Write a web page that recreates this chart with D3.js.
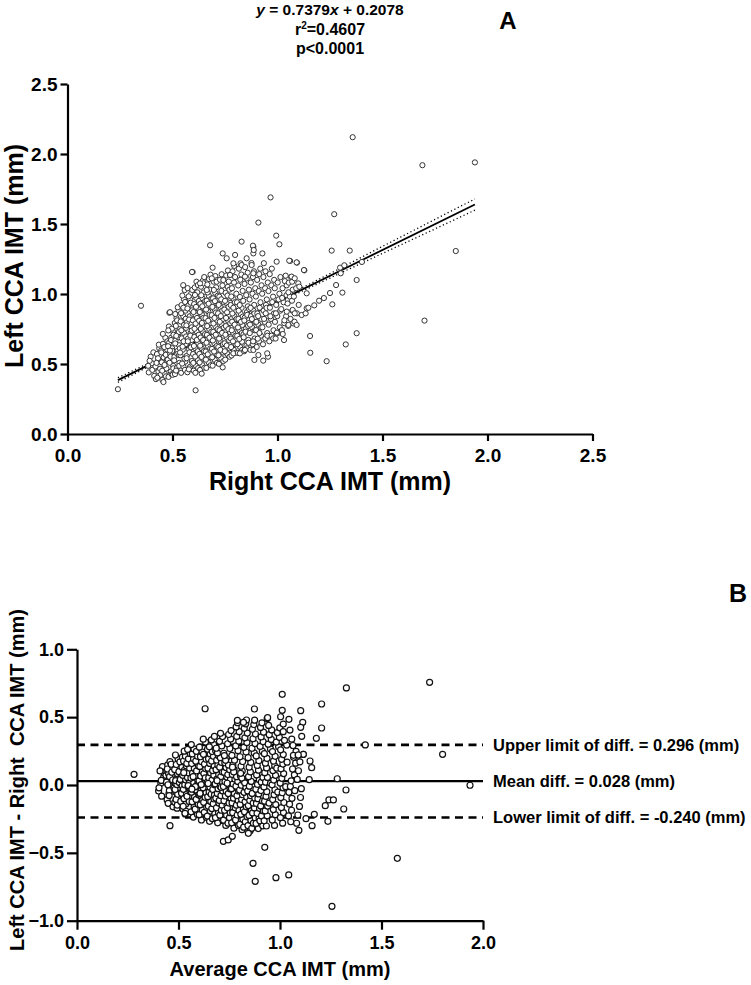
<!DOCTYPE html>
<html><head><meta charset="utf-8">
<script src="https://cdn.jsdelivr.net/npm/d3@7"></script>
<style>
body{margin:0;background:#fff}
text{font-family:"Liberation Sans",Arial,Helvetica,sans-serif;font-weight:bold;fill:#000}
</style>
</head><body>
<svg id="c" width="751" height="985"></svg>
<script>
// ---------- DATA ----------
const ticksA = [0, 0.5, 1.0, 1.5, 2.0, 2.5];
const ticksBX = [0, 0.5, 1.0, 1.5, 2.0];
const ticksBY = [-1.0, -0.5, 0, 0.5, 1.0];

const statLines = ["y = 0.7379x + 0.2078", "r²=0.4607", "p<0.0001"];

// fitted regression line (end points) and 95% confidence band
const fitX = [0.24, 1.94];
const fitY = [0.385, 1.639];
const bandX = [0.24, 0.5, 0.75, 1.0, 1.25, 1.5, 1.75, 1.94];
const bandUpper = [0.402, 0.586, 0.767, 0.955, 1.146, 1.340, 1.533, 1.679];
const bandLower = [0.369, 0.568, 0.755, 0.937, 1.114, 1.290, 1.465, 1.599];

// Bland-Altman reference lines
const limitNames = ["Upper limit of diff. = 0.296 (mm)", "Mean diff. = 0.028 (mm)", "Lower limit of diff. = -0.240 (mm)"];
const limitValues = [0.296, 0.028, -0.240];

// Panel A: [Right CCA IMT, Left CCA IMT] (mm)
const scatterA = [
[0.387,0.44],[0.402,0.505],[0.413,0.415],[0.396,0.552],[0.418,0.472],[0.391,0.523],[0.409,0.583],[0.404,0.458],[0.384,0.487],
[0.421,0.392],[0.433,0.447],[0.442,0.518],[0.426,0.571],[0.437,0.612],[0.444,0.423],[0.419,0.483],[0.431,0.541],[0.446,0.596],[0.428,0.402],[0.424,0.508],[0.441,0.466],[0.435,0.638],
[0.452,0.386],[0.463,0.431],[0.471,0.468],[0.449,0.512],[0.458,0.547],[0.474,0.603],[0.455,0.644],[0.466,0.687],[0.469,0.412],[0.451,0.452],[0.462,0.493],[0.473,0.528],[0.447,0.583],[0.461,0.621],[0.476,0.662],[0.457,0.371],[0.468,0.566],[0.454,0.715],
[0.481,0.408],[0.492,0.446],[0.503,0.487],[0.478,0.531],[0.489,0.572],[0.498,0.613],[0.484,0.652],[0.494,0.688],[0.502,0.734],[0.483,0.768],[0.496,0.427],[0.504,0.469],[0.486,0.509],[0.491,0.553],[0.499,0.594],[0.479,0.627],[0.493,0.671],[0.505,0.709],[0.501,0.423],[0.488,0.596],[0.497,0.752],[0.485,0.866],
[0.512,0.428],[0.521,0.472],[0.533,0.508],[0.509,0.551],[0.524,0.593],[0.531,0.634],[0.514,0.668],[0.526,0.712],[0.534,0.749],[0.511,0.793],[0.519,0.828],[0.529,0.884],[0.517,0.453],[0.532,0.487],[0.508,0.526],[0.523,0.571],[0.535,0.612],[0.513,0.647],[0.527,0.691],[0.53,0.728],[0.516,0.772],[0.522,0.812],[0.513,0.857],[0.531,0.563],[0.525,0.905],[0.518,0.701],
[0.541,0.437],[0.552,0.482],[0.561,0.517],[0.538,0.563],[0.549,0.602],[0.563,0.641],[0.544,0.683],[0.556,0.718],[0.564,0.758],[0.539,0.804],[0.551,0.842],[0.562,0.881],[0.543,0.921],[0.554,0.963],[0.559,0.458],[0.546,0.503],[0.557,0.538],[0.536,0.582],[0.548,0.624],[0.553,0.662],[0.565,0.697],[0.542,0.741],[0.555,0.779],[0.563,0.823],[0.541,0.863],[0.552,0.902],[0.558,1.028],[0.551,1.063],[0.547,0.989],[0.56,0.943],
[0.571,0.441],[0.583,0.479],[0.592,0.521],[0.568,0.558],[0.579,0.604],[0.594,0.637],[0.574,0.682],[0.586,0.721],[0.591,0.762],[0.569,0.798],[0.582,0.841],[0.593,0.883],[0.576,0.918],[0.584,0.961],[0.589,1.004],[0.572,1.042],[0.578,0.462],[0.595,0.499],[0.567,0.541],[0.581,0.583],[0.588,0.619],[0.573,0.662],[0.585,0.703],[0.592,0.739],[0.566,0.776],[0.579,0.818],[0.596,0.859],[0.571,0.897],[0.587,0.938],[0.594,1.029],[0.596,1.157],[0.577,0.983],
[0.601,0.452],[0.612,0.487],[0.621,0.528],[0.598,0.571],[0.609,0.612],[0.623,0.648],[0.604,0.693],[0.615,0.732],[0.619,0.771],[0.597,0.812],[0.611,0.848],[0.624,0.893],[0.603,0.928],[0.613,0.972],[0.618,1.012],[0.606,1.047],[0.614,1.088],[0.622,0.471],[0.599,0.508],[0.608,0.553],[0.62,0.591],[0.602,0.629],[0.616,0.672],[0.625,0.709],[0.605,0.752],[0.61,0.789],[0.617,0.829],[0.6,0.871],[0.612,0.908],[0.626,0.951],[0.607,0.993],[0.621,1.064],[0.609,0.437],[0.61,0.312],
[0.631,0.458],[0.642,0.492],[0.651,0.534],[0.628,0.572],[0.639,0.613],[0.653,0.652],[0.634,0.689],[0.645,0.731],[0.649,0.773],[0.627,0.809],[0.641,0.851],[0.654,0.889],[0.633,0.931],[0.643,0.969],[0.648,1.011],[0.636,1.052],[0.644,1.093],[0.652,0.473],[0.629,0.511],[0.638,0.551],[0.65,0.592],[0.632,0.631],[0.646,0.671],[0.655,0.713],[0.635,0.751],[0.64,0.793],[0.647,0.829],[0.63,0.871],[0.642,0.912],[0.656,0.951],[0.637,0.991],[0.651,1.121],[0.647,1.076],[0.639,0.431],
[0.661,0.472],[0.672,0.512],[0.681,0.548],[0.658,0.589],[0.669,0.628],[0.683,0.671],[0.664,0.708],[0.675,0.749],[0.679,0.792],[0.657,0.828],[0.671,0.872],[0.684,0.909],[0.663,0.952],[0.673,0.988],[0.678,1.031],[0.666,1.068],[0.674,1.107],[0.682,0.491],[0.659,0.531],[0.668,0.569],[0.68,0.611],[0.662,0.652],[0.676,0.688],[0.685,0.731],[0.665,0.771],[0.67,0.809],[0.677,0.851],[0.66,0.889],[0.672,0.931],[0.686,0.968],[0.667,1.011],[0.681,1.138],[0.679,1.348],[0.663,1.029],
[0.691,0.488],[0.702,0.528],[0.711,0.569],[0.688,0.608],[0.699,0.649],[0.713,0.688],[0.694,0.729],[0.705,0.768],[0.709,0.811],[0.687,0.849],[0.701,0.889],[0.714,0.928],[0.693,0.969],[0.703,1.009],[0.708,1.048],[0.696,1.088],[0.704,1.128],[0.712,0.508],[0.689,0.548],[0.698,0.589],[0.71,0.628],[0.692,0.668],[0.706,0.709],[0.715,0.749],[0.695,0.789],[0.7,0.829],[0.707,0.868],[0.69,0.908],[0.702,0.949],[0.716,0.988],[0.697,1.029],[0.711,1.099],[0.691,1.188],[0.71,1.088],
[0.721,0.501],[0.732,0.541],[0.741,0.582],[0.718,0.621],[0.729,0.662],[0.743,0.702],[0.724,0.741],[0.735,0.782],[0.739,0.821],[0.717,0.862],[0.731,0.901],[0.744,0.942],[0.723,0.981],[0.733,1.022],[0.738,1.061],[0.726,1.102],[0.734,1.141],[0.742,0.521],[0.719,0.562],[0.728,0.601],[0.74,0.642],[0.722,0.681],[0.736,0.722],[0.745,0.761],[0.725,0.801],[0.73,0.842],[0.737,0.881],[0.72,0.922],[0.732,0.962],[0.742,1.1],[0.739,1.29],[0.739,0.476],
[0.751,0.531],[0.762,0.571],[0.771,0.612],[0.748,0.648],[0.759,0.689],[0.773,0.728],[0.754,0.771],[0.765,0.809],[0.769,0.852],[0.747,0.889],[0.761,0.928],[0.774,0.972],[0.753,1.008],[0.763,1.051],[0.768,1.089],[0.756,1.132],[0.764,1.168],[0.772,0.552],[0.749,0.591],[0.758,0.632],[0.77,0.669],[0.752,0.709],[0.766,0.749],[0.775,0.791],[0.755,0.829],[0.76,0.869],[0.767,0.909],[0.75,0.951],[0.762,0.989],[0.771,1.031],[0.758,1.255],[0.774,1.136],
[0.781,0.561],[0.792,0.601],[0.801,0.641],[0.778,0.682],[0.789,0.722],[0.803,0.761],[0.784,0.802],[0.795,0.841],[0.799,0.882],[0.777,0.921],[0.791,0.962],[0.804,1.002],[0.783,1.041],[0.793,1.082],[0.798,1.121],[0.786,1.162],[0.794,1.201],[0.802,0.581],[0.779,0.621],[0.788,0.662],[0.8,0.702],[0.782,0.741],[0.796,0.781],[0.805,0.822],[0.785,0.861],[0.79,0.902],[0.797,0.941],[0.78,0.982],[0.798,1.279],[0.79,1.219],[0.79,0.576],
[0.811,0.579],[0.822,0.621],[0.831,0.659],[0.808,0.701],[0.819,0.741],[0.833,0.779],[0.814,0.822],[0.825,0.859],[0.829,0.901],[0.807,0.941],[0.821,0.979],[0.834,1.022],[0.813,1.061],[0.823,1.102],[0.828,1.139],[0.816,1.181],[0.824,1.219],[0.832,0.601],[0.809,0.641],[0.818,0.679],[0.83,0.721],[0.812,0.761],[0.826,0.801],[0.835,0.839],[0.815,0.881],[0.82,0.921],[0.829,1.374],[0.829,1.207],[0.821,0.576],
[0.841,0.591],[0.852,0.631],[0.861,0.672],[0.838,0.712],[0.849,0.751],[0.863,0.792],[0.844,0.831],[0.855,0.872],[0.859,0.912],[0.837,0.951],[0.851,0.992],[0.864,1.031],[0.843,1.072],[0.853,1.111],[0.858,1.152],[0.846,1.192],[0.854,0.612],[0.862,0.652],[0.839,0.691],[0.848,0.731],[0.86,0.772],[0.842,0.811],[0.856,0.851],[0.865,0.892],[0.845,1.124],[0.853,1.255],[0.845,0.6],
[0.871,0.601],[0.882,0.642],[0.891,0.682],[0.868,0.721],[0.879,0.762],[0.893,0.801],[0.874,0.842],[0.885,0.881],[0.889,0.922],[0.867,0.961],[0.881,1.002],[0.894,1.041],[0.873,1.082],[0.883,1.121],[0.888,1.162],[0.876,1.221],[0.884,0.662],[0.892,0.741],[0.869,0.781],[0.878,0.821],[0.89,0.861],[0.872,0.901],[0.885,1.338],[0.885,1.29],[0.877,1.207],[0.885,1.148],[0.883,1.345],[0.887,1.314],[0.89,0.529],[0.885,0.60],
[0.901,0.622],[0.912,0.661],[0.921,0.702],[0.898,0.742],[0.909,0.781],[0.923,0.822],[0.904,0.861],[0.915,0.902],[0.919,0.941],[0.897,0.982],[0.911,1.021],[0.924,1.062],[0.903,1.101],[0.913,1.142],[0.918,1.181],[0.906,0.681],[0.914,0.721],[0.922,0.762],[0.899,0.801],[0.908,0.842],[0.909,0.564],[0.909,1.51],[0.928,1.29],[0.932,0.524],
[0.931,0.641],[0.942,0.682],[0.951,0.721],[0.928,0.762],[0.939,0.801],[0.953,0.842],[0.934,0.881],[0.945,0.922],[0.949,0.961],[0.927,1.002],[0.941,1.041],[0.954,1.082],[0.933,1.121],[0.943,1.162],[0.952,0.702],[0.936,0.822],[0.944,0.862],[0.948,0.901],[0.935,1.22],[0.955,0.552],[0.951,0.576],
[0.961,0.662],[0.972,0.702],[0.981,0.741],[0.958,0.781],[0.969,0.822],[0.983,0.861],[0.964,0.902],[0.975,0.942],[0.979,0.981],[0.957,1.021],[0.971,1.062],[0.984,1.101],[0.963,1.142],[0.973,1.181],[0.98,0.683],[0.966,0.841],[0.967,1.69],
[0.991,0.682],[1.002,0.721],[1.011,0.762],[0.988,0.801],[0.999,0.842],[1.013,0.881],[0.994,0.922],[1.005,0.961],[1.009,1.002],[0.987,1.041],[1.001,1.082],[1.014,1.121],[0.996,0.719],[0.994,1.417],[1.009,1.355],[0.996,1.231],[0.992,0.862],[0.997,0.724],
[1.021,0.742],[1.032,0.792],[1.041,0.841],[1.018,0.892],[1.029,0.941],[1.043,0.992],[1.024,1.041],[1.035,1.092],[1.039,1.131],[1.022,0.972],[1.033,0.812],[1.044,1.062],[1.031,0.671],[1.025,0.714],[1.044,0.874],
[1.051,0.772],[1.062,0.822],[1.071,0.881],[1.048,0.932],[1.059,0.981],[1.073,1.031],[1.054,1.081],[1.065,1.121],[1.069,0.952],[1.052,1.012],[1.075,0.79],[1.06,1.236],[1.056,1.238],[1.067,1.124],[1.07,1.088],[1.052,0.779],[1.072,0.886],
[1.081,0.802],[1.092,0.862],[1.101,0.922],[1.078,0.982],[1.089,1.041],[1.099,1.076],[1.104,1.052],[1.091,0.779],[1.093,1.224],[1.082,1.112],[1.082,0.862],[1.115,0.85],
[0.24,0.32],[0.35,0.916],[1.358,2.12],[1.69,1.92],[1.94,1.94],[1.849,1.307],[1.70,0.81],[1.27,1.57],[1.258,1.31],[1.344,1.31],
[1.377,1.10],[1.377,0.72],[1.325,0.64],[1.234,0.52],[1.156,0.58],[1.155,0.70],[1.309,1.01],[1.279,1.064],[1.261,0.926],[1.25,1.007],
[1.221,0.971],[1.198,0.952],[1.175,0.919],[1.134,0.862],[1.139,0.898],[1.147,0.902],[1.298,1.188],[1.318,1.205],[1.402,1.229],[1.301,1.148],
[1.128,1.169],[1.139,1.005],[1.126,1.171],[1.091,1.226],[0.631,1.076],[0.687,1.112],[0.774,1.136],[0.593,1.157],[0.488,0.87],[0.48,0.74]
];

// Panel B: [Average CCA IMT, Left - Right difference] (mm)
const scatterB = [
[0.413,0.012],[0.402,-0.045],[0.427,0.058],[0.417,-0.082],[0.429,0.091],[0.404,-0.021],[0.421,0.135],[0.415,0.034],[0.438,0.071],[0.409,0.104],
[0.453,-0.063],[0.442,0.105],[0.457,-0.012],[0.447,0.148],[0.459,0.046],[0.444,-0.108],[0.451,0.082],[0.455,-0.041],[0.441,0.021],[0.449,-0.135],[0.458,0.172],[0.445,0.118],[0.454,-0.078],[0.448,0.002],[0.456,0.061],[0.473,-0.161],[0.467,0.094],[0.478,-0.022],[0.464,0.153],[0.471,0.037],
[0.493,-0.171],[0.482,-0.128],[0.497,-0.087],[0.487,-0.052],[0.499,-0.018],[0.484,0.015],[0.491,0.047],[0.495,0.082],[0.481,0.114],[0.489,0.151],[0.498,0.192],[0.485,0.221],[0.494,-0.149],[0.488,-0.106],[0.496,-0.069],[0.483,-0.033],[0.492,0.003],[0.486,0.032],[0.513,0.064],[0.502,0.098],[0.517,0.132],[0.507,0.171],[0.519,0.205],[0.504,0.019],[0.511,-0.121],[0.515,-0.061],[0.509,0.041],[0.518,-0.006],
[0.533,-0.213],[0.522,-0.176],[0.537,-0.139],[0.527,-0.101],[0.539,-0.068],[0.524,-0.032],[0.531,0.002],[0.535,0.038],[0.521,0.071],[0.529,0.108],[0.538,0.141],[0.525,0.177],[0.534,0.212],[0.528,0.249],[0.536,-0.193],[0.523,-0.157],[0.553,-0.121],[0.542,-0.083],[0.557,-0.049],[0.547,-0.013],[0.559,0.022],[0.544,0.056],[0.551,0.089],[0.555,0.124],[0.541,0.159],[0.549,0.193],[0.558,0.231],[0.545,0.262],[0.552,0.012],[0.532,-0.209],[0.548,-0.004],[0.526,0.091],
[0.573,-0.236],[0.562,-0.198],[0.577,-0.161],[0.567,-0.124],[0.579,-0.088],[0.564,-0.053],[0.571,-0.019],[0.575,0.016],[0.561,0.051],[0.569,0.087],[0.578,0.122],[0.565,0.158],[0.574,0.193],[0.568,0.229],[0.576,0.266],[0.563,0.298],[0.593,-0.218],[0.582,-0.178],[0.597,-0.142],[0.587,-0.106],[0.599,-0.071],[0.584,-0.036],[0.591,-0.002],[0.595,0.033],[0.581,0.069],[0.589,0.104],[0.598,0.141],[0.585,0.176],[0.594,0.211],[0.588,0.248],[0.596,0.009],[0.583,-0.012],[0.572,0.061],[0.566,-0.031],
[0.613,-0.258],[0.602,-0.219],[0.617,-0.183],[0.607,-0.146],[0.619,-0.109],[0.604,-0.074],[0.611,-0.039],[0.615,-0.004],[0.601,0.031],[0.609,0.066],[0.618,0.101],[0.605,0.137],[0.614,0.172],[0.608,0.208],[0.616,0.243],[0.603,0.279],[0.633,0.316],[0.622,0.338],[0.637,-0.238],[0.627,-0.201],[0.639,-0.164],[0.624,-0.128],[0.631,-0.091],[0.635,-0.056],[0.621,-0.021],[0.629,0.014],[0.638,0.048],[0.625,0.084],[0.634,0.119],[0.628,0.154],[0.636,0.189],[0.623,0.226],[0.631,0.562],[0.612,0.003],[0.632,0.052],[0.606,-0.062],
[0.653,-0.268],[0.642,-0.229],[0.657,-0.192],[0.647,-0.156],[0.659,-0.121],[0.644,-0.086],[0.651,-0.051],[0.655,-0.016],[0.641,0.019],[0.649,0.054],[0.658,0.089],[0.645,0.124],[0.654,0.159],[0.648,0.194],[0.656,0.229],[0.643,0.264],[0.673,0.299],[0.662,0.332],[0.677,0.358],[0.667,-0.248],[0.679,-0.211],[0.664,-0.174],[0.671,-0.138],[0.675,-0.103],[0.661,-0.068],[0.669,-0.033],[0.678,0.002],[0.665,0.036],[0.674,0.071],[0.668,0.106],[0.676,0.141],[0.663,0.177],[0.672,0.211],[0.666,0.246],[0.652,0.281],[0.646,0.011],[0.677,-0.074],
[0.693,-0.279],[0.682,-0.241],[0.697,-0.204],[0.687,-0.168],[0.699,-0.132],[0.684,-0.097],[0.691,-0.062],[0.695,-0.027],[0.681,0.008],[0.689,0.043],[0.698,0.078],[0.685,0.113],[0.694,0.148],[0.688,0.183],[0.696,0.218],[0.683,0.253],[0.713,0.288],[0.702,0.322],[0.717,0.357],[0.707,0.381],[0.719,-0.261],[0.704,-0.222],[0.711,-0.186],[0.715,-0.149],[0.701,-0.114],[0.709,-0.079],[0.718,-0.044],[0.705,-0.009],[0.714,0.026],[0.708,0.061],[0.716,0.096],[0.703,0.131],[0.712,0.166],[0.706,0.201],[0.692,0.236],[0.686,0.271],[0.71,-0.018],[0.69,0.032],
[0.733,-0.298],[0.722,-0.259],[0.737,-0.222],[0.727,-0.186],[0.739,-0.151],[0.724,-0.116],[0.731,-0.081],[0.735,-0.046],[0.721,-0.011],[0.729,0.024],[0.738,0.059],[0.725,0.094],[0.734,0.129],[0.728,0.164],[0.736,0.199],[0.723,0.234],[0.753,0.269],[0.742,0.304],[0.757,0.339],[0.747,0.372],[0.759,0.401],[0.744,-0.281],[0.751,-0.241],[0.755,-0.204],[0.741,-0.168],[0.749,-0.133],[0.758,-0.098],[0.745,-0.063],[0.754,-0.028],[0.748,0.007],[0.756,0.042],[0.743,0.077],[0.752,0.112],[0.746,0.147],[0.732,0.182],[0.726,0.217],[0.721,-0.415],[0.745,-0.405],[0.765,-0.378],[0.74,0.013],
[0.773,-0.318],[0.762,-0.279],[0.777,-0.241],[0.767,-0.204],[0.779,-0.168],[0.764,-0.132],[0.771,-0.097],[0.775,-0.062],[0.761,-0.027],[0.769,0.008],[0.778,0.043],[0.765,0.078],[0.774,0.113],[0.768,0.148],[0.776,0.183],[0.763,0.218],[0.793,0.253],[0.782,0.288],[0.797,0.323],[0.787,0.358],[0.799,0.393],[0.784,0.428],[0.791,0.459],[0.795,-0.298],[0.781,-0.258],[0.789,-0.221],[0.798,-0.186],[0.785,-0.149],[0.794,-0.114],[0.788,-0.079],[0.796,-0.044],[0.783,-0.009],[0.792,0.026],[0.786,0.061],[0.772,0.096],[0.766,0.131],[0.79,0.476],
[0.813,-0.329],[0.802,-0.291],[0.817,-0.253],[0.807,-0.216],[0.819,-0.179],[0.804,-0.143],[0.811,-0.107],[0.815,-0.072],[0.801,-0.037],[0.809,-0.002],[0.818,0.033],[0.805,0.068],[0.814,0.103],[0.808,0.138],[0.816,0.173],[0.803,0.208],[0.833,0.243],[0.822,0.278],[0.837,0.313],[0.827,0.348],[0.839,0.383],[0.824,0.418],[0.831,0.451],[0.835,0.479],[0.821,-0.311],[0.829,-0.271],[0.838,-0.234],[0.825,-0.197],[0.834,-0.161],[0.828,-0.124],[0.836,-0.089],[0.823,-0.054],[0.832,-0.019],[0.826,0.016],[0.812,0.051],[0.806,0.086],[0.82,0.461],
[0.853,-0.338],[0.842,-0.299],[0.857,-0.261],[0.847,-0.224],[0.859,-0.187],[0.844,-0.151],[0.851,-0.115],[0.855,-0.079],[0.841,-0.044],[0.849,-0.009],[0.858,0.026],[0.845,0.061],[0.854,0.096],[0.848,0.131],[0.856,0.166],[0.843,0.201],[0.873,0.236],[0.862,0.271],[0.877,0.306],[0.867,0.341],[0.879,0.376],[0.864,0.411],[0.871,0.446],[0.875,0.478],[0.861,-0.319],[0.869,-0.281],[0.878,-0.243],[0.865,-0.206],[0.874,-0.169],[0.868,-0.133],[0.876,-0.098],[0.863,-0.062],[0.874,0.56],[0.844,-0.356],[0.867,-0.577],[0.878,-0.71],
[0.893,-0.321],[0.882,-0.283],[0.897,-0.246],[0.887,-0.209],[0.899,-0.172],[0.884,-0.136],[0.891,-0.101],[0.895,-0.066],[0.881,-0.031],[0.889,0.004],[0.898,0.039],[0.885,0.074],[0.894,0.109],[0.888,0.144],[0.896,0.179],[0.883,0.214],[0.913,0.249],[0.902,0.284],[0.917,0.319],[0.907,0.354],[0.919,0.389],[0.904,0.424],[0.911,0.458],[0.915,-0.301],[0.901,-0.264],[0.909,-0.228],[0.918,-0.191],[0.905,-0.154],[0.914,-0.118],[0.908,0.021],[0.916,0.056],[0.906,-0.041],
[0.933,-0.302],[0.922,-0.264],[0.937,-0.227],[0.927,-0.191],[0.939,-0.155],[0.924,-0.119],[0.931,-0.084],[0.935,-0.049],[0.921,-0.014],[0.929,0.021],[0.938,0.056],[0.925,0.091],[0.934,0.126],[0.928,0.161],[0.936,0.196],[0.923,0.231],[0.953,0.266],[0.942,0.301],[0.957,0.336],[0.947,0.371],[0.959,0.406],[0.944,0.439],[0.937,0.49],[0.925,-0.459],[0.953,0.012],[0.946,-0.133],
[0.973,-0.298],[0.962,-0.258],[0.977,-0.219],[0.967,-0.181],[0.979,-0.144],[0.964,-0.107],[0.971,-0.071],[0.975,-0.035],[0.961,0.001],[0.969,0.036],[0.978,0.071],[0.965,0.106],[0.974,0.141],[0.968,0.176],[0.976,0.211],[0.963,0.246],[0.993,0.281],[0.982,0.316],[0.997,0.351],[0.987,0.386],[0.999,0.421],[0.98,-0.683],[0.989,-0.052],[0.984,0.124],
[1.013,-0.281],[1.002,-0.241],[1.017,-0.203],[1.007,-0.166],[1.019,-0.129],[1.004,-0.093],[1.011,-0.057],[1.015,-0.021],[1.001,0.014],[1.009,0.049],[1.018,0.084],[1.005,0.119],[1.014,0.154],[1.008,0.189],[1.016,0.224],[1.003,0.259],[1.033,0.294],[1.022,0.329],[1.011,0.668],[1.011,0.55],[1.003,0.503],[1.044,0.484],[1.016,0.449],[1.049,0.405],[1.016,0.393],[1.043,-0.663],[1.028,-0.012],[1.035,0.168],
[1.053,-0.271],[1.042,-0.228],[1.057,-0.186],[1.047,-0.141],[1.059,-0.098],[1.044,-0.054],[1.051,-0.011],[1.055,0.031],[1.071,0.074],[1.062,0.118],[1.077,0.161],[1.067,0.204],[1.079,0.248],[1.064,0.291],[1.066,0.219],[1.058,0.338],[1.073,-0.042],
[1.082,-0.282],[1.088,-0.221],[1.093,-0.334],[1.096,-0.158],[1.101,-0.092],[1.105,-0.027],[1.085,0.041],[1.091,0.105],[1.098,0.171],[1.09,0.221],[1.115,0.226],[1.102,0.548],[1.112,0.462],[1.102,0.425],[1.107,0.359],[1.128,-0.248],
[0.281,0.079],[0.458,-0.30],[0.939,0.496],[1.327,0.715],[1.737,0.757],[1.205,0.597],[1.42,0.295],[1.801,0.226],[1.936,-0.002],[1.282,0.046],
[1.325,-0.037],[1.223,-0.152],[1.241,-0.11],[1.263,-0.11],[1.314,-0.177],[1.169,-0.216],[1.158,-0.30],[1.236,-0.268],[1.578,-0.54],[1.256,-0.894],
[1.205,0.42],[1.179,0.344],[1.148,0.177],[1.156,0.128],[1.144,0.039],[1.115,0.226],[1.09,0.221]
];

// ---------- DRAWING ----------
const svg = d3.select("#c");
svg.append("rect").attr("width", 751).attr("height", 985).attr("fill", "#fff");
const fontFam = '"Liberation Sans", Arial, sans-serif';
const fmt = d3.format(".1f");

function styleAxis(g, size, sw) {
  g.attr("font-size", size).attr("font-family", fontFam);
  g.select(".domain").attr("stroke", "#000").attr("stroke-width", sw);
  g.selectAll(".tick line").attr("stroke", "#000").attr("stroke-width", sw);
  g.selectAll(".tick text").attr("fill", "#000");
}

// ===== Panel A =====
const xA = d3.scaleLinear().domain([0, 2.5]).range([67.5, 592.5]);
const yA = d3.scaleLinear().domain([0, 2.5]).range([434, 84]);
const gA = svg.append("g");

// stats text
gA.append("text").attr("x", 330).attr("y", 15).attr("text-anchor", "middle").attr("font-size", 15.5)
  .html('<tspan font-style="italic">y</tspan> = 0.7379<tspan font-style="italic">x</tspan> + 0.2078');
const r2 = gA.append("text").attr("x", 330).attr("y", 35).attr("text-anchor", "middle").attr("font-size", 16);
r2.append("tspan").text("r");
r2.append("tspan").attr("font-size", 10).attr("dy", -6).text("2");
r2.append("tspan").attr("dy", 6).text("=0.4607");
gA.append("text").attr("x", 330).attr("y", 54).attr("text-anchor", "middle").attr("font-size", 16).text(statLines[2]);
gA.append("text").attr("x", 508).attr("y", 29).attr("text-anchor", "middle").attr("font-size", 24).text("A");

// confidence band
const bandPath = vals => d3.line().x((d, i) => xA(bandX[i])).y(d => yA(d)).curve(d3.curveMonotoneX)(vals);
[bandUpper, bandLower].forEach(v => {
  gA.append("path").attr("d", bandPath(v)).attr("fill", "none").attr("stroke", "#000")
    .attr("stroke-width", 1.3).attr("stroke-dasharray", "1.2,2.6");
});
gA.append("line").attr("x1", xA(fitX[0])).attr("y1", yA(fitY[0])).attr("x2", xA(fitX[1])).attr("y2", yA(fitY[1]))
  .attr("stroke", "#000").attr("stroke-width", 1.8);

gA.append("g").selectAll("circle").data(scatterA).join("circle")
  .attr("cx", d => xA(d[0])).attr("cy", d => yA(d[1])).attr("r", 2.6)
  .attr("fill", "#fff").attr("stroke", "#333").attr("stroke-width", 1);

gA.append("g").attr("transform", "translate(0,434)")
  .call(d3.axisBottom(xA).tickValues(ticksA).tickFormat(fmt).tickSize(7).tickSizeOuter(0).tickPadding(8))
  .call(g => styleAxis(g, 19, 2.2));
gA.append("g").attr("transform", "translate(67.5,0)")
  .call(d3.axisLeft(yA).tickValues(ticksA).tickFormat(fmt).tickSize(7).tickSizeOuter(0).tickPadding(3))
  .call(g => styleAxis(g, 19, 2.2));

gA.append("text").attr("x", 330).attr("y", 490).attr("text-anchor", "middle").attr("font-size", 25).text("Right CCA IMT (mm)");
gA.append("text").attr("transform", "translate(23,256) rotate(-90)").attr("text-anchor", "middle").attr("font-size", 25).text("Left CCA IMT (mm)");

// ===== Panel B =====
const xB = d3.scaleLinear().domain([0, 2]).range([77, 483]);
const yB = d3.scaleLinear().domain([-1, 1]).range([920.7, 649.3]);
const gB = svg.append("g");

gB.append("text").attr("x", 738).attr("y", 602).attr("text-anchor", "middle").attr("font-size", 25).text("B");

limitValues.forEach((v, i) => {
  gB.append("line").attr("x1", xB(0)).attr("x2", xB(2)).attr("y1", yB(v)).attr("y2", yB(v))
    .attr("stroke", "#000").attr("stroke-width", i === 1 ? 2.2 : 2.6)
    .attr("stroke-dasharray", i === 1 ? null : "8,5.5");
  gB.append("text").attr("x", 493).attr("y", yB(v)).attr("dy", "0.35em").attr("font-size", 16.5).text(limitNames[i]);
});

gB.append("g").selectAll("circle").data(scatterB).join("circle")
  .attr("cx", d => xB(d[0])).attr("cy", d => yB(d[1])).attr("r", 3)
  .attr("fill", "#fff").attr("stroke", "#111").attr("stroke-width", 1.2);

gB.append("g").attr("transform", "translate(0,920.7)")
  .call(d3.axisBottom(xB).tickValues(ticksBX).tickFormat(fmt).tickSize(9).tickSizeOuter(0).tickPadding(7))
  .call(g => styleAxis(g, 18, 2.2));
gB.append("g").attr("transform", "translate(77,0)")
  .call(d3.axisLeft(yB).tickValues(ticksBY).tickFormat(fmt).tickSize(10).tickSizeOuter(0).tickPadding(3))
  .call(g => styleAxis(g, 18, 2.2));

gB.append("text").attr("x", 280).attr("y", 976).attr("text-anchor", "middle").attr("font-size", 20).text("Average CCA IMT (mm)");
gB.append("text").attr("transform", "translate(24,780) rotate(-90)").attr("text-anchor", "middle").attr("font-size", 20)
  .style("white-space", "pre").text("Left CCA IMT - Right  CCA IMT (mm)");
</script>
</body></html>
